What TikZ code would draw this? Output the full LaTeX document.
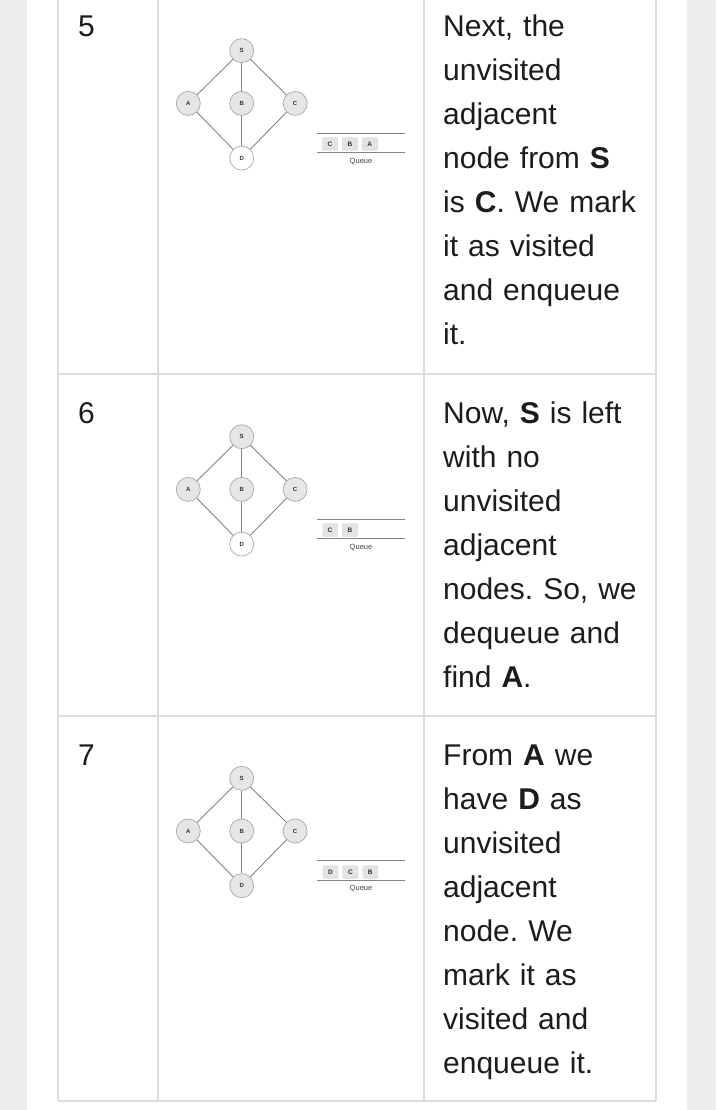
\documentclass[tikz,border=0pt]{standalone}
\usepackage{fontspec}
\setmainfont{Liberation Sans}
\usetikzlibrary{positioning}
\definecolor{pagegray}{HTML}{EDEDED}
\definecolor{rulegray}{HTML}{DCDCDC}
\definecolor{nodefill}{HTML}{E6E6E6}
\definecolor{nodeline}{HTML}{A8A8A8}
\definecolor{edgegray}{HTML}{858585}
\definecolor{qfill}{HTML}{E3E3E3}
\definecolor{qrulegray}{HTML}{858585}
\definecolor{txtcol}{HTML}{1C1C1C}
\frenchspacing

\begin{document}
\begin{tikzpicture}[x=1pt, y=-1pt,
    vnode/.style={circle, draw=nodeline, line width=0.7pt, fill=nodefill, minimum size=24pt, inner sep=0pt,
      text=black!80, font=\fontsize{6}{6}\selectfont\bfseries},
    edge/.style={draw=edgegray, line width=0.9pt},
    qbox/.style={draw=black!15, fill=qfill, rounded corners=1pt, minimum width=15pt,
      minimum height=13pt, inner sep=0pt, text=black!80, font=\fontsize{6.5}{6.5}\selectfont\bfseries},
    qrule/.style={draw=qrulegray, line width=0.9pt},
    qlabel/.style={text=black!75, font=\fontsize{7.5}{8}\selectfont},
    stepno/.style={anchor=base west, inner sep=0pt, text=txtcol, font=\fontsize{30}{44}\selectfont},
    steptext/.style={anchor=base west, inner sep=0pt, text width=240pt, align=left,
      text=txtcol, font=\fontsize{30}{44}\selectfont},
    tablerule/.style={draw=rulegray, line width=2pt},
  ]
  \useasboundingbox (0,0) rectangle (716,1110);
  % page and table
  \fill[pagegray] (0,0) rectangle (716,1110);
  \fill[white] (27,0) rectangle (687,1110);
  \coordinate (t00) at (58,0);    \coordinate (t01) at (58,1101);
  \coordinate (t10) at (158,0);   \coordinate (t11) at (158,1101);
  \coordinate (t20) at (424,0);   \coordinate (t21) at (424,1101);
  \coordinate (t30) at (656,0);   \coordinate (t31) at (656,1101);
  \foreach \c in {0,1,2,3}
    \draw[tablerule] (t\c0) -- (t\c1);
  \foreach \h/\ry in {a/374, b/716, c/1101} {
    \coordinate (h\h l) at (58,\ry);
    \coordinate (h\h r) at (656,\ry);
    \draw[tablerule] (h\h l) -- (h\h r);
  }

  % graphs, one per row
  \foreach \r/\y/\dfill in {5/50.7/white, 6/436.7/white, 7/778.3/nodefill} {
    \node[vnode] (s\r) at (241.7,\y) {S};
    \node[vnode, below=28pt of s\r] (b\r) {B};
    \node[vnode, left=28.7pt of b\r] (a\r) {A};
    \node[vnode, right=28.7pt of b\r] (c\r) {C};
    \node[vnode, fill=\dfill, below=30pt of b\r] (d\r) {D};
    \draw[edge] (s\r) -- (a\r);
    \draw[edge] (s\r) -- (b\r);
    \draw[edge] (s\r) -- (c\r);
    \draw[edge] (a\r) -- (d\r);
    \draw[edge] (b\r) -- (d\r);
    \draw[edge] (c\r) -- (d\r);
    % queue
    \coordinate (qtl\r) at (317,\y+82.3);
    \coordinate (qtr\r) at (405,\y+82.3);
    \coordinate (qbl\r) at (317,\y+102);
    \coordinate (qbr\r) at (405,\y+102);
    \draw[qrule] (qtl\r) -- (qtr\r);
    \draw[qrule] (qbl\r) -- (qbr\r);
    \node[qlabel] (ql\r) at (361,\y+110.5) {Queue};
  }

  % queue contents
  \node[qbox] (q5c) at (330,144) {C};
  \node[qbox, right=4.5pt of q5c] (q5b) {B};
  \node[qbox, right=4.5pt of q5b] (q5a) {A};
  \node[qbox] (q6c) at (330,530) {C};
  \node[qbox, right=4.5pt of q6c] (q6b) {B};
  \node[qbox] (q7d) at (330.5,872) {D};
  \node[qbox, right=4.5pt of q7d] (q7c) {C};
  \node[qbox, right=4.5pt of q7c] (q7b) {B};

  % step numbers
  \node[stepno] (no5) at (78,37) {5};
  \node[stepno] (no6) at (78,423) {6};
  \node[stepno] (no7) at (78,765) {7};

  % descriptions
  \node[steptext] (txt5) at (443,37) {Next, the\\ unvisited\\ adjacent\\ node from \textbf{S}\\
    is \textbf{C}. We mark\\ it as visited\\ and enqueue\\ it.};
  \node[steptext] (txt6) at (443,423) {Now, \textbf{S} is left\\ with no\\ unvisited\\ adjacent\\
    nodes. So, we\\ dequeue and\\ find \textbf{A}.};
  \node[steptext] (txt7) at (443,765) {From \textbf{A} we\\ have \textbf{D} as\\ unvisited\\ adjacent\\
    node. We\\ mark it as\\ visited and\\ enqueue it.};
\end{tikzpicture}
\end{document}
